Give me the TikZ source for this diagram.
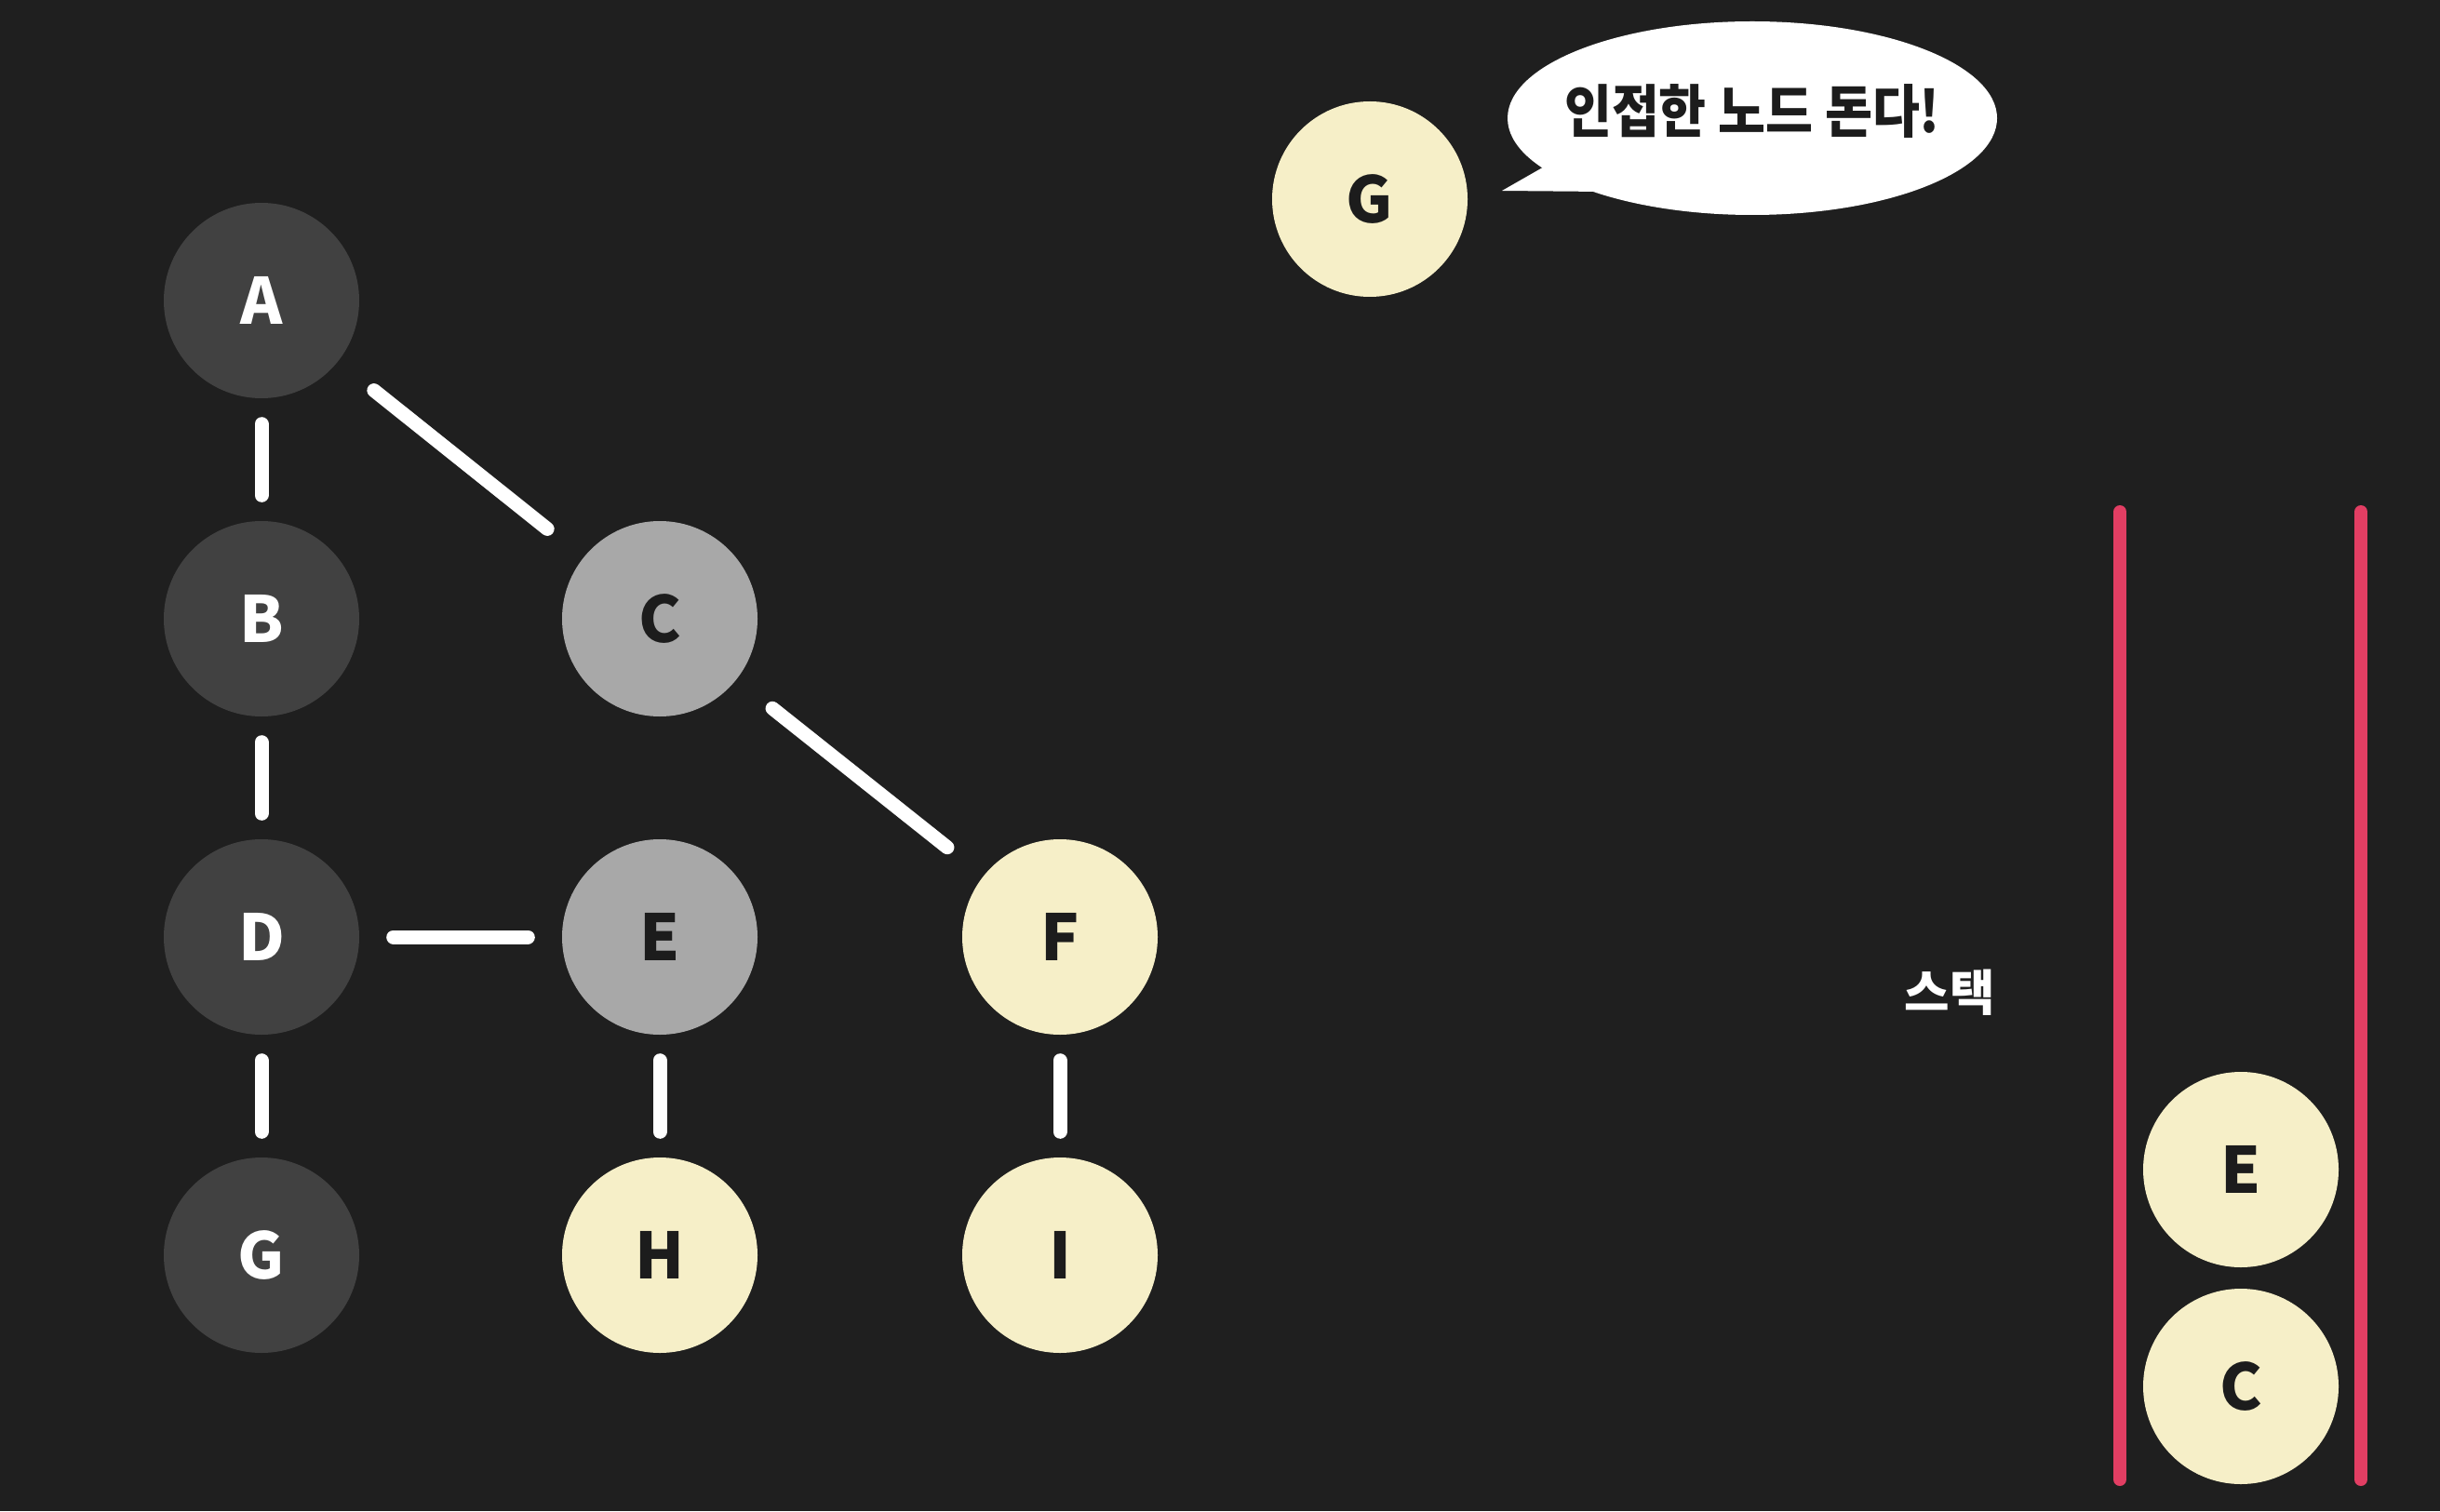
\documentclass[tikz,border=0pt]{standalone}
\usepackage{fontspec}
\setmainfont{Noto Sans CJK KR}
\newfontfamily\sayfont{Noto Sans CJK KR}[FakeStretch=0.9]
\usetikzlibrary{calc}
\definecolor{BgDark} {HTML}{1F1F1F}
\definecolor{Done}   {HTML}{414141}
\definecolor{Seen}   {HTML}{A8A8A8}
\definecolor{Cream}  {HTML}{F6EFC8}
\definecolor{Ink}    {HTML}{1C1C1C}
\definecolor{StackR} {HTML}{E23E63}
\tikzset{
  vtx/.style args={#1/#2}{
    circle, fill=#1, text=#2,
    minimum size=2.1cm, inner sep=0pt,
    font=\fontsize{19.5}{23}\selectfont\bfseries,
  },
  link/.style={
    draw=white, line width=0.15cm, line cap=round,
    shorten <=#1, shorten >=#1,
  },
  wall/.style={
    draw=StackR, line width=0.14cm, line cap=round,
  },
}

\begin{document}
\begin{tikzpicture}[x=1cm,y=1cm]

  \fill[BgDark] (0,0) rectangle (26.22,16.24);
  \useasboundingbox (0,0) rectangle (26.22,16.24);

  % graph
  \node[vtx=Done/white] (A) at (2.81,13.01) {A};
  \node[vtx=Done/white] (B) at (2.81,9.59)  {B};
  \node[vtx=Seen/Ink]   (C) at (7.09,9.59)  {C};
  \node[vtx=Done/white] (D) at (2.81,6.17)  {D};
  \node[vtx=Seen/Ink]   (E) at (7.09,6.17)  {E};
  \node[vtx=Cream/Ink]  (F) at (11.39,6.17) {F};
  \node[vtx=Done/white] (G) at (2.81,2.75)  {G};
  \node[vtx=Cream/Ink]  (H) at (7.09,2.75)  {H};
  \node[vtx=Cream/Ink]  (I) at (11.39,2.75) {I};

  \draw[link=0.27cm] (A) -- (B);
  \draw[link=0.27cm] (B) -- (D);
  \draw[link=0.27cm] (D) -- (G);
  \draw[link=0.27cm] (E) -- (H);
  \draw[link=0.27cm] (F) -- (I);
  \draw[link=0.36cm] (D) -- (E);
  \draw[link=0.49cm] (A) -- (C);
  \draw[link=0.49cm] (C) -- (F);

  % current node and its bubble
  \node[vtx=Cream/Ink] (CUR) at (14.72,14.10) {G};
  \coordinate (BUB) at (18.83,14.97);
  \fill[white] (BUB) ellipse [x radius=2.63cm, y radius=1.04cm];
  \fill[white] ($(BUB)+(-2.20,-0.50)$)
            -- ($(BUB)+(-2.69,-0.78)$)
            -- ($(BUB)+(-1.60,-0.79)$) -- cycle;
  \node[text=Ink, font=\fontsize{17.5}{21}\sayfont\bfseries]
        (SAY) at ($(BUB)+(0,0.07)$) {인접한 노드 돈다!};

  % stack
  \node[text=white, font=\fontsize{15}{18}\selectfont\bfseries]
        (LBL) at (20.95,5.57) {스택};
  \coordinate (LT) at (22.78,10.74);
  \coordinate (LB) at (22.78,0.34);
  \coordinate (RT) at (25.37,10.74);
  \coordinate (RB) at (25.37,0.34);
  \draw[wall] (LT) -- (LB);
  \draw[wall] (RT) -- (RB);
  \node[vtx=Cream/Ink] (S1) at (24.08,1.34) {C};
  \node[vtx=Cream/Ink] (S2) at (24.08,3.67) {E};

\end{tikzpicture}
\end{document}
